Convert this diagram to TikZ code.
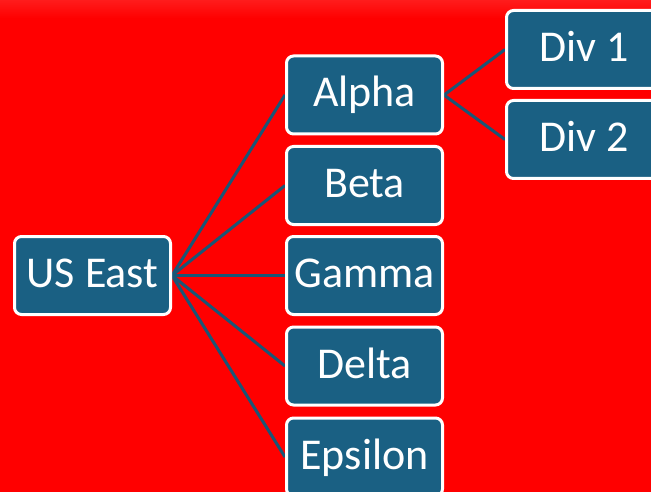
\documentclass[tikz,border=0pt]{standalone}
\usepackage{fontspec}
\setmainfont{Carlito}
\usetikzlibrary{backgrounds}
\definecolor{boxfill}{HTML}{1A6083}
\definecolor{linecol}{HTML}{1A5676}
\definecolor{bgred}{HTML}{FF0000}
\definecolor{bgtop}{HTML}{FF1C1C}
\begin{document}
\begin{tikzpicture}[x=1pt,y=-1pt,
  orgbox/.style={draw=white, line width=3pt, fill=boxfill, rounded corners=7pt,
    minimum width=156pt, minimum height=78pt, inner sep=0pt,
    text=white, font=\fontsize{44}{50}\selectfont, text height=31pt, text depth=7pt},
  link/.style={draw=linecol, line width=3pt}]
\useasboundingbox (0,0) rectangle (651,492);
\clip (0,0) rectangle (651,492);
\node[orgbox] (us) at (92.5,275.5) {US East};
\node[orgbox] (alpha) at (364.5,95) {Alpha};
\node[orgbox] (beta) at (364.5,185.5) {Beta};
\node[orgbox] (gamma) at (364.5,275.5) {Gamma};
\node[orgbox] (delta) at (364.5,366) {Delta};
\node[orgbox] (eps) at (364.5,457) {Epsilon};
\node[orgbox] (div1) at (584.5,49.5) {Div 1};
\node[orgbox] (div2) at (584.5,139.5) {Div 2};
\begin{pgfonlayer}{background}
\fill[bgred] (0,0) rectangle (651,492);
\shade[top color=bgtop, bottom color=bgred] (0,0) rectangle (651,18);
\foreach \t in {alpha,beta,gamma,delta,eps}{
  \draw[link] (us.east) -- (\t.west);
}
\draw[link] (alpha.east) -- (div1.west);
\draw[link] (alpha.east) -- (div2.west);
\end{pgfonlayer}
\end{tikzpicture}
\end{document}
